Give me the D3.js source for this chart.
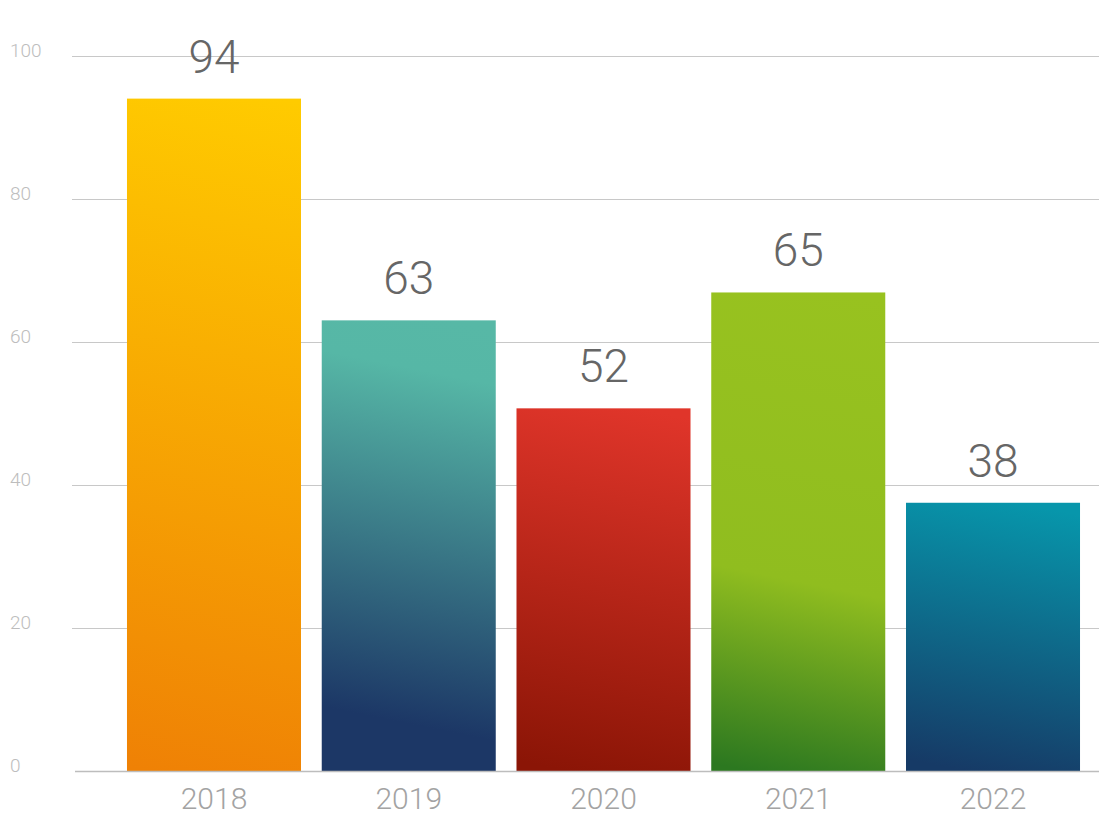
<!DOCTYPE html>
<html>
<head>
  <meta charset="utf-8">
  <script src="https://d3js.org/d3.v7.min.js"></script>
  <style>
    body { margin: 0; background: #fff; }
    text { font-family: Roboto, "Open Sans", sans-serif; font-weight: 300; }
    .grid line { stroke: #c8c8c8; stroke-width: 1; }
    .ytick text { fill: #bdbdbd; font-size: 19px; }
    .xtick text { fill: #a3a3a3; font-size: 30px; }
    .vlabel { fill: #666; font-size: 46px; }
  </style>
</head>
<body>
  <div id="chart"></div>
  <script>
    // data
    var years = ['2018', '2019', '2020', '2021', '2022'];
    var barValues = [94, 63, 50.7, 66.9, 37.5];
    var valueLabels = ['94', '63', '52', '65', '38'];
    var yTicks = [0, 20, 40, 60, 80, 100];

    // gradient colours, top -> bottom
    var gradStops = [
      [['0', '#ffcb00'], ['1', '#ef8105']],
      [['0', '#57b8a6'], ['0.12', '#56b7a6'], ['0.88', '#1c3766'], ['1', '#1c3766']],
      [['0', '#e0352a'], ['1', '#8b1506']],
      [['0', '#98c21f'], ['0.6', '#90bd1f'], ['1', '#2c7820']],
      [['0', '#0796ab'], ['1', '#163a66']]
    ];

    var width = 1099, height = 815;

    var svg = d3.select('#chart').append('svg')
      .attr('width', width)
      .attr('height', height);

    var x = d3.scaleBand()
      .domain(years)
      .range([116.6, 1090.4])
      .paddingInner(0.1065)
      .paddingOuter(0.0533);

    var y = d3.scaleLinear()
      .domain([0, 100])
      .range([771, 55.7]);

    // slightly tilted gradients, lighter at the top right
    var defs = svg.append('defs');
    gradStops.forEach(function(stops, i) {
      var cx = x(years[i]) + x.bandwidth() / 2;
      var top = y(barValues[i]), bottom = y(0);
      var tilt = 0.1 * (bottom - top);
      var g = defs.append('linearGradient')
        .attr('id', 'grad' + i)
        .attr('gradientUnits', 'userSpaceOnUse')
        .attr('x1', cx + tilt).attr('y1', top)
        .attr('x2', cx - tilt).attr('y2', bottom);
      stops.forEach(function(s) {
        g.append('stop').attr('offset', s[0]).attr('stop-color', s[1]);
      });
    });

    // grid lines
    var grid = svg.append('g').attr('class', 'grid');
    grid.selectAll('line')
      .data(yTicks.filter(function(d) { return d > 0; }))
      .enter()
      .append('line')
      .attr('x1', 72).attr('x2', width)
      .attr('y1', function(d) { return Math.round(y(d)) + 0.5; })
      .attr('y2', function(d) { return Math.round(y(d)) + 0.5; });

    // y tick labels
    svg.append('g').attr('class', 'ytick')
      .selectAll('text')
      .data(yTicks)
      .enter()
      .append('text')
      .attr('x', 10)
      .attr('y', function(d) { return y(d) + 1; })
      .text(function(d) { return d; });

    // bars
    svg.append('g')
      .selectAll('rect')
      .data(barValues)
      .enter()
      .append('rect')
      .attr('x', function(d, i) { return x(years[i]); })
      .attr('y', function(d) { return y(d); })
      .attr('width', x.bandwidth())
      .attr('height', function(d) { return y(0) - y(d); })
      .attr('fill', function(d, i) { return 'url(#grad' + i + ')'; });

    // baseline
    svg.append('line')
      .attr('x1', 75).attr('x2', width)
      .attr('y1', y(0) + 0.5).attr('y2', y(0) + 0.5)
      .attr('stroke', '#bdbdbd')
      .attr('stroke-width', 1.5);

    // value labels
    svg.append('g')
      .selectAll('text')
      .data(barValues)
      .enter()
      .append('text')
      .attr('class', 'vlabel')
      .attr('text-anchor', 'middle')
      .attr('x', function(d, i) { return x(years[i]) + x.bandwidth() / 2; })
      .attr('y', function(d) { return y(d) - 26; })
      .text(function(d, i) { return valueLabels[i]; });

    // x labels
    svg.append('g').attr('class', 'xtick')
      .selectAll('text')
      .data(years)
      .enter()
      .append('text')
      .attr('text-anchor', 'middle')
      .attr('x', function(d) { return x(d) + x.bandwidth() / 2; })
      .attr('y', 809)
      .text(function(d) { return d; });
  </script>
</body>
</html>
